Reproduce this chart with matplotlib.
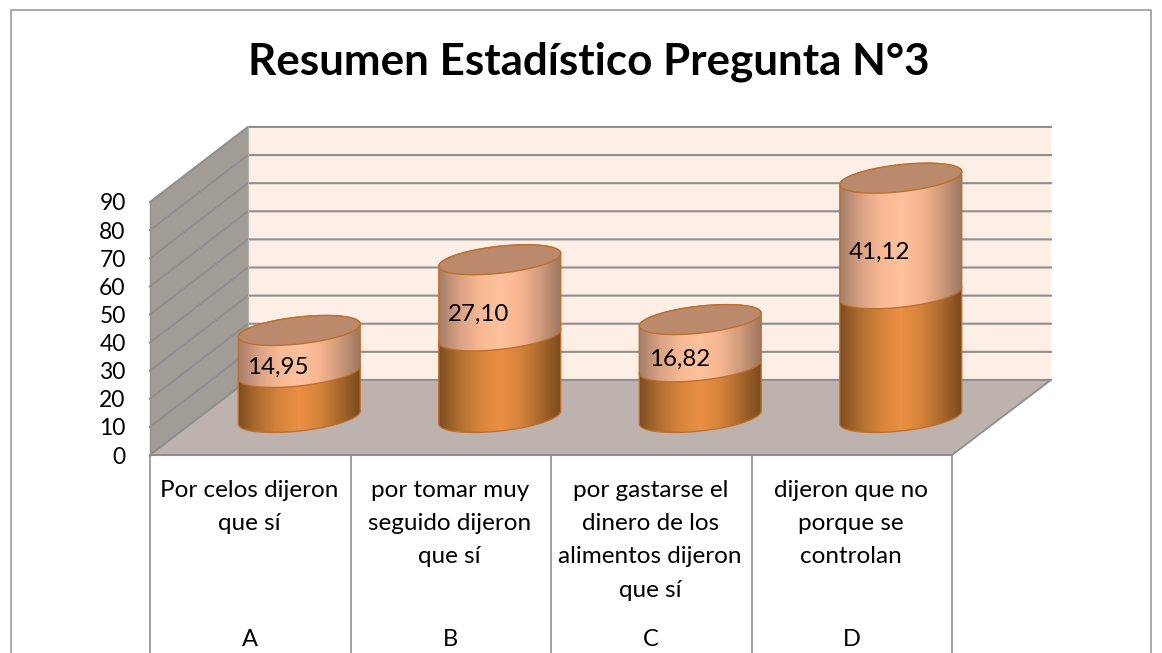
import numpy as np
import matplotlib
matplotlib.use("Agg")
import matplotlib.pyplot as plt
from matplotlib.colors import LinearSegmentedColormap
from matplotlib.patches import Polygon, PathPatch
from matplotlib.path import Path
from matplotlib.lines import Line2D

# data
categorias = ["Por celos dijeron\nque sí",
              "por tomar muy\nseguido dijeron\nque sí",
              "por gastarse el\ndinero de los\nalimentos dijeron\nque sí",
              "dijeron que no\nporque se\ncontrolan"]
letras = ["A", "B", "C", "D"]
frecuencia = [16, 29, 18, 44]
porcentaje = [14.95, 27.10, 16.82, 41.12]
etiquetas = ["14,95", "27,10", "16,82", "41,12"]
y_ticks = [0, 10, 20, 30, 40, 50, 60, 70, 80, 90]
titulo = "Resumen Estadístico Pregunta N°3"

W, H = 1162, 653
plt.rcParams["font.family"] = ["Lato", "DejaVu Sans"]

fig = plt.figure(figsize=(W / 100, H / 100), dpi=100, facecolor="white")
# plot area is placed by pixel, the 3D box hangs outside of it
ax = fig.add_axes([150 / W, (H - 455) / H, 802 / W, 253 / H])
ax.patch.set_visible(False)
for s in ax.spines.values():
    s.set_visible(False)

# depth of the box and size of the cylinders, in axis units
dx = 0.4888
dy = 26.7
radio = 0.304
incl = 2.3
alto = 4.8

GRIS = "#8f8f8f"
ax.add_patch(Polygon([(dx, dy), (4 + dx + 0.005, dy), (4 + dx + 0.005, 90 + dy), (dx, 90 + dy)],
                     fc="#fdeee6", ec="none", clip_on=False, zorder=1))
ax.add_patch(Polygon([(0, 0), (dx, dy), (dx, 90 + dy), (0, 90)],
                     fc="#a29c97", ec="none", clip_on=False, zorder=1))
ax.add_patch(Polygon([(0, 0), (dx, dy), (4 + dx + 0.005, dy), (4, 0)],
                     fc="#bdb2ae", ec="none", clip_on=False, zorder=1))

# grid lines follow the side wall then the back wall
for v in y_ticks:
    ax.plot([0, dx, 4 + dx + 0.005], [v, v + dy, v + dy], color=GRIS, lw=1.5, clip_on=False, zorder=2)
ax.plot([0, 0], [0, 90], color=GRIS, lw=1.0, clip_on=False, zorder=2)
ax.plot([4, 4 + dx + 0.005], [0, dy], color=GRIS, lw=1.3, clip_on=False, zorder=2)
ax.plot([dx, dx], [dy, 90 + dy], color="#b5b0ac", lw=0.8, clip_on=False, zorder=2)

# category table below the floor
fondo = -70.5
for x in range(5):
    ax.plot([x, x], [0, fondo], color=GRIS, lw=1.2, clip_on=False, zorder=2)
ax.plot([0, 4], [0, 0], color=GRIS, lw=1.5, clip_on=False, zorder=2)

cmap_bajo = LinearSegmentedColormap.from_list(
    "bajo", ["#7e4c20", "#b06f30", "#d6843c", "#ea8f43", "#d6843c", "#a9682c", "#7a4a1e"])
cmap_alto = LinearSegmentedColormap.from_list(
    "alto", ["#a57e68", "#d9a184", "#f8b893", "#ffc29d", "#f6b690", "#d09a7c", "#9c7762"])
BORDE = "#bf6f2d"
TAPA = "#bb8a6d"


def curva(cx, v, t):
    return cx + radio * np.cos(t), v + incl * np.cos(t) + alto * np.sin(t)


def tramo(cx, v0, v1, cmap, z):
    # body of one stacked segment, gradient image clipped to its outline
    x0, y0 = curva(cx, v0, np.linspace(np.pi, 2 * np.pi, 60))
    x2, y2 = curva(cx, v1, np.linspace(0, np.pi, 60))
    pts = np.vstack([np.c_[x0, y0], np.c_[x2, y2], [[x0[0], y0[0]]]])
    path = Path(pts)
    img = ax.imshow(np.linspace(0, 1, 256).reshape(1, -1), cmap=cmap, aspect="auto",
                    extent=[cx - radio, cx + radio, v0 - 10, v1 + 10], zorder=z)
    img.set_clip_path(PathPatch(path, transform=ax.transData))
    img.set_clip_box(fig.bbox)
    ax.add_patch(PathPatch(path, fc="none", ec=BORDE, lw=1.0, clip_on=False, zorder=z + 0.01))


for i in range(len(letras)):
    cx = i + 0.5 + dx / 2
    base = dy / 2
    medio = base + frecuencia[i]
    tope = medio + porcentaje[i]
    tramo(cx, base, medio, cmap_bajo, 3.1)
    tramo(cx, medio, tope, cmap_alto, 3.2)
    xt, yt = curva(cx, tope, np.linspace(0, 2 * np.pi, 120))
    ax.fill(xt, yt, fc=TAPA, ec=BORDE, lw=1.0, clip_on=False, zorder=3.5)
    ax.text(cx - 0.105, (medio + tope) / 2 - 5.7, etiquetas[i], ha="center", va="center",
            fontsize=17.4, color="black", zorder=4)
    ax.text(i + 0.5, -65.5, letras[i], ha="center", va="center", fontsize=17, color="black")

ax.set_xlim(0, 4)
ax.set_ylim(0, 90)

ax.set_yticks(y_ticks)
ax.set_yticklabels([str(v) for v in y_ticks], fontsize=16.5)
ax.tick_params(axis="y", length=0, pad=17.5)
ax.set_xticks([i + 0.495 for i in range(len(categorias))])
ax.set_xticklabels(categorias, fontsize=17.5, linespacing=1.73, va="top")
ax.tick_params(axis="x", length=0, pad=17.7)

fig.text(588.5 / W, 1 - 62 / H, titulo, ha="center", va="center", fontsize=31.7, fontweight="bold", color="black")

# chart frame, cut at the bottom of the picture
marco = Line2D([10.5 / W, 10.5 / W, 1151 / W, 1151 / W], [0, 1 - 9.5 / H, 1 - 9.5 / H, 0],
               transform=fig.transFigure, color="#9a9a9a", lw=1.2)
fig.add_artist(marco)

fig.savefig("out.png", dpi=100)
